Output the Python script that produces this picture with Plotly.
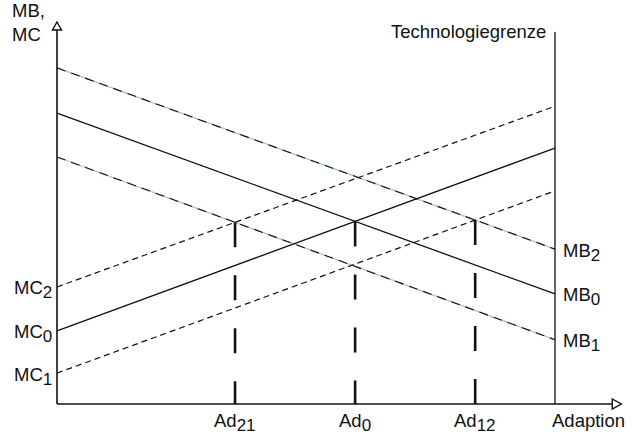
import plotly.graph_objects as go

# ---- data ----
x_ends = [0, 10]                       # adoption axis origin .. technology frontier
mb_labels = ["MB", "MB", "MB"]
mb_subs = ["2", "0", "1"]
mb_left = [6.75, 5.84, 4.96]
mb_right = [3.11, 2.21, 1.29]
mc_labels = ["MC", "MC", "MC"]
mc_subs = ["2", "0", "1"]
mc_left = [2.35, 1.47, 0.62]
mc_right = [5.98, 5.14, 4.28]
ad_labels = ["Ad", "Ad", "Ad"]
ad_subs = ["21", "0", "12"]
ad_pairs = [(0, 2), (1, 1), (2, 0)]    # (MC index, MB index) whose crossing defines Ad
frontier_top = 7.47
y_axis_top = 7.55
x_axis_end = 11.15

W, H = 632, 436
X0PX, Y0PX, S = 57, 404, 49.8
xr = [-X0PX / S, (W - X0PX) / S]
yr = [-(H - Y0PX) / S, Y0PX / S]

FONT = "Liberation Sans, Arial, Helvetica, sans-serif"
FS = 18.5
BLUE = "#a8c2e6"

def sub(base, s):
    return f"{base}<sub><span style='font-size:{FS - 1.5}px'>{s}</span></sub>"

fig = go.Figure()

def dashed(i):
    return i != 1  # index 1 is the solid base line

# MB lines
for i in range(3):
    ys = [mb_left[i], mb_right[i]]
    if dashed(i):
        fig.add_trace(go.Scatter(x=x_ends, y=ys, mode="lines",
                                 line=dict(color=BLUE, width=1.3), hoverinfo="skip"))
        fig.add_trace(go.Scatter(x=x_ends, y=ys, mode="lines",
                                 line=dict(color="#111", width=1.1, dash="9px,6px"), hoverinfo="skip"))
    else:
        fig.add_trace(go.Scatter(x=x_ends, y=ys, mode="lines",
                                 line=dict(color="#111", width=1.3), hoverinfo="skip"))

# MC lines
for i in range(3):
    ys = [mc_left[i], mc_right[i]]
    fig.add_trace(go.Scatter(x=x_ends, y=ys, mode="lines",
                             line=dict(color="#111", width=1.2 if dashed(i) else 1.3,
                                       dash="6px,4px" if dashed(i) else "solid"),
                             hoverinfo="skip"))

def at(x, a, b):
    return a + (b - a) * (x - x_ends[0]) / (x_ends[1] - x_ends[0])

# intersections -> vertical dashed lines
ad_x = []
for mc_i, mb_i in ad_pairs:
    s_mc = (mc_right[mc_i] - mc_left[mc_i]) / (x_ends[1] - x_ends[0])
    s_mb = (mb_right[mb_i] - mb_left[mb_i]) / (x_ends[1] - x_ends[0])
    xi = (mb_left[mb_i] - mc_left[mc_i]) / (s_mc - s_mb)
    yi = at(xi, mc_left[mc_i], mc_right[mc_i])
    ad_x.append(xi)
    fig.add_trace(go.Scatter(x=[xi, xi], y=[yi, 0], mode="lines",
                             line=dict(color="#111", width=2.6, dash="25px,28px"), hoverinfo="skip"))

# technology frontier
fig.add_trace(go.Scatter(x=[x_ends[1], x_ends[1]], y=[0, frontier_top], mode="lines",
                         line=dict(color="#111", width=1.3), hoverinfo="skip"))

# axes
fig.add_trace(go.Scatter(x=[0, 0], y=[0, y_axis_top], mode="lines",
                         line=dict(color="#111", width=1.6), hoverinfo="skip"))
fig.add_trace(go.Scatter(x=[0, x_axis_end], y=[0, 0], mode="lines",
                         line=dict(color="#111", width=1.6), hoverinfo="skip"))

px = lambda p: (p - X0PX) / S
py = lambda p: (Y0PX - p) / S
shapes = [
    dict(type="path", xref="x", yref="y",
         path=f"M {px(57)},{py(22)} L {px(61.5)},{py(30)} L {px(52.5)},{py(30)} Z",
         line=dict(color="#111", width=1.4), fillcolor="white"),
    dict(type="path", xref="x", yref="y",
         path=f"M {x_axis_end},{py(399)} L {x_axis_end + 9 / S},{0} L {x_axis_end},{py(409)} Z",
         line=dict(color="#111", width=1.4), fillcolor="white"),
]

ann = []
f = dict(family=FONT, size=FS, color="#111")
for i in range(3):
    ann.append(dict(x=x_ends[1], y=mb_right[i], text=sub(mb_labels[i], mb_subs[i]),
                    xanchor="left", yanchor="middle",
                    xshift=6, yshift=-3, showarrow=False, font=f))
    ann.append(dict(x=0, y=mc_left[i], text=sub(mc_labels[i], mc_subs[i]),
                    xanchor="right", yanchor="middle",
                    xshift=-3, yshift=-3, showarrow=False, font=f))
for lab, s, xi in zip(ad_labels, ad_subs, ad_x):
    ann.append(dict(x=xi, y=0, text=sub(lab, s), xanchor="center", yanchor="top",
                    yshift=-4, showarrow=False, font=f))
ann.append(dict(x=x_ends[1], y=0, text="Adaption", xanchor="left", yanchor="top",
                xshift=-5, yshift=-4, showarrow=False, font=f))
ann.append(dict(x=x_ends[1], y=frontier_top, text="Technologiegrenze", xanchor="right", yanchor="middle",
                xshift=-7, showarrow=False, font=f))
ann.append(dict(x=0, y=y_axis_top, text="MB,<br>MC", xanchor="right", yanchor="top", align="left",
                xshift=-10, yshift=30, showarrow=False, font=f))

fig.update_layout(
    width=W, height=H, autosize=False, showlegend=False,
    margin=dict(l=0, r=0, t=0, b=0),
    paper_bgcolor="white", plot_bgcolor="white",
    xaxis=dict(range=xr, visible=False, fixedrange=True),
    yaxis=dict(range=yr, visible=False, fixedrange=True),
    shapes=shapes, annotations=ann,
)
fig.write_html("out.html", config={"displayModeBar": False},
               post_script="document.body.style.margin='0';document.body.style.overflow='hidden';")
